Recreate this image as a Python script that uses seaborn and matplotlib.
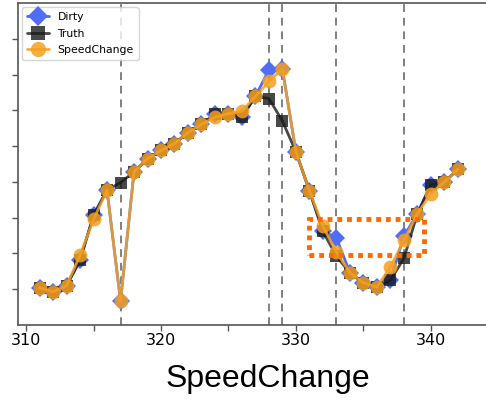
import numpy as np
import pandas as pd
import matplotlib
matplotlib.use("Agg")
import matplotlib.pyplot as plt
import seaborn as sns
from matplotlib.patches import Rectangle

# Time index of the series
steps = list(range(311, 343))

# Observed (dirty) values
dirty = [0.04, -0.07, 0.10, 0.81, 2.07, 2.77, -0.33, 3.28, 3.65, 3.88,
         4.07, 4.38, 4.61, 4.89, 4.91, 4.81, 5.39, 6.14, 6.15, 3.84,
         2.75, 1.62, 1.44, 0.46, 0.18, 0.06, 0.25, 1.48, 2.11, 2.92,
         3.00, 3.35]

# Ground truth values
truth = [0.04, -0.07, 0.10, 0.81, 2.07, 2.77, 2.98, 3.28, 3.65, 3.88,
         4.07, 4.38, 4.61, 4.89, 4.91, 4.81, 5.39, 5.33, 4.70, 3.84,
         2.75, 1.62, 0.92, 0.46, 0.18, 0.06, 0.25, 0.86, 2.11, 2.92,
         3.00, 3.35]

# Values repaired by the SpeedChange method
speedchange = [0.04, -0.07, 0.10, 0.95, 1.95, 2.77, -0.33, 3.28, 3.65, 3.88,
               4.07, 4.38, 4.61, 4.81, 4.91, 4.98, 5.39, 5.81, 6.15, 3.84,
               2.75, 1.76, 1.04, 0.46, 0.18, 0.06, 0.62, 1.37, 2.11, 2.67,
               3.00, 3.35]

# Positions of detected anomalies
anomalies = [317, 328, 329, 333, 338]

# Highlighted region (x0, x1, y0, y1)
box_x = [330.96, 339.48]
box_y = [0.95, 1.96]

df = pd.DataFrame({"step": steps, "Dirty": dirty, "Truth": truth,
                   "SpeedChange": speedchange})

sns.set_style("white")
plt.rcParams["text.color"] = "black"
plt.rcParams["xtick.color"] = "black"
plt.rcParams["ytick.color"] = "black"
plt.rcParams["axes.labelcolor"] = "black"

fig = plt.figure(figsize=(4.86, 4.01), dpi=100)
ax = fig.add_axes([0.037, 0.1895, 0.98, 0.803])

for xv in anomalies:
    ax.axvline(xv, color="#808080", linestyle=(0, (4, 3)), linewidth=1.4, zorder=1)

sns.lineplot(data=df, x="step", y="Dirty", ax=ax, marker="D", markersize=9,
             color="#4f6df5", linewidth=2, markeredgewidth=0, label="Dirty",
             zorder=2)
sns.lineplot(data=df, x="step", y="Truth", ax=ax, marker="s", markersize=9,
             color="#1a1a1a", linewidth=2, alpha=0.8, markeredgewidth=0,
             label="Truth", zorder=3)
sns.lineplot(data=df, x="step", y="SpeedChange", ax=ax, marker="o",
             markersize=10, color="#f5a020", linewidth=2, alpha=0.85,
             markeredgewidth=0, label="SpeedChange", zorder=4)

ax.add_patch(Rectangle((box_x[0], box_y[0]), box_x[1] - box_x[0],
                       box_y[1] - box_y[0], fill=False, edgecolor="#ff6a00",
                       linewidth=3.5, linestyle=(0, (1, 1)), zorder=5))

ax.set_xlim(309.4, 344.7)
ax.set_ylim(-1.0, 8.0)
ax.set_xticks([310, 320, 330, 340])
ax.set_xticks([315, 325, 335], minor=True)
ax.set_yticks(range(0, 8))
ax.set_yticklabels([])
ax.tick_params(axis="both", which="both", length=4, width=1, color="#555555",
               direction="out", bottom=True, left=True)
ax.tick_params(axis="x", labelsize=11.5, pad=2, labelcolor="black")
for side in ["left", "bottom", "top", "right"]:
    ax.spines[side].set_color("#555555")
    ax.spines[side].set_linewidth(1.2)

ax.set_ylabel("")
ax.set_xlabel("SpeedChange", fontsize=23, color="black",
              family=["Liberation Sans", "DejaVu Sans"])
ax.xaxis.set_label_coords(0.525, -0.168)
ax.xaxis.label.set_verticalalignment("center")

leg = ax.legend(loc="upper left", fontsize=7.8, frameon=True,
                borderaxespad=0.4, handlelength=2.0, labelspacing=0.6,
                borderpad=0.45, markerscale=1.1)
leg.get_frame().set_edgecolor("#cccccc")
for t in leg.get_texts():
    t.set_color("black")

fig.savefig("out.png", dpi=100)
